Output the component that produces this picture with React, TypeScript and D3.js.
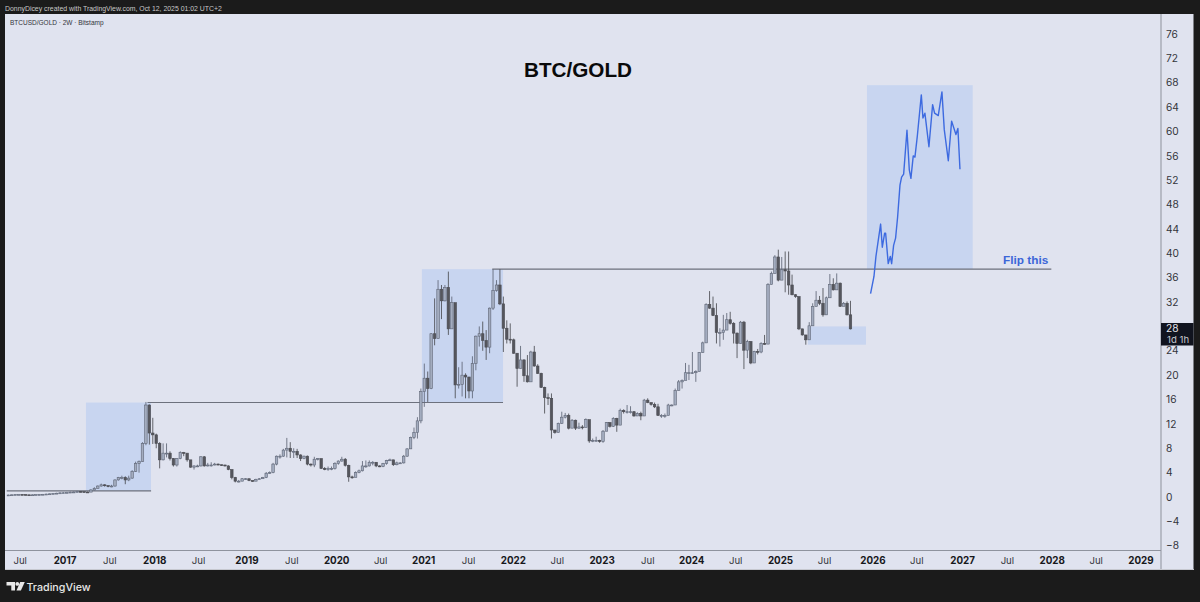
import React from "react";
import * as d3 from "d3";

const closes = [
  .33,.36,.4,.42,.4,.36,.33,.36,.38,.4,.44,.48,.52,.58,.62,.68,.7,.75,.8,.82,.9,.88,.82,.8,
  1.15,1.42,1.8,2.0,1.86,1.7,1.8,2.8,3.2,3.2,2.8,3.1,4.2,5.5,5.8,8.8,15.1,10.5,10.2,8.8,6.1,7.2,7.2,6.3,5.25,6.3,
  7.3,7.2,6.1,4.9,5.1,5.1,6.6,5.1,5.25,5.25,5.4,5.3,5.25,5.1,4.5,3.2,2.6,2.6,3,3,2.7,2.6,2.9,3,3.2,3.9,4,5.4,6.7,6.7,
  7.7,8,7.5,7.5,6.9,6.3,6.7,5.4,5.25,6.2,6.3,4.7,4.5,4.7,4.7,5.5,5.9,6.2,5.2,3.3,3.2,4,4.3,5.1,5.1,5.7,5.7,5.1,5,5.5,
  6,6.1,5.3,5.6,5.6,6.7,7.9,9.8,10.6,12.5,17.3,
  19.5,17.8,26.8,26,34.1,32.2,34.4,27.6,31.9,18.4,18.5,20,19.7,17.4,21.9,26.4,26.8,25.7,24.6,31,33.9,34.8,31.7,27.7,25.9,25.8,23.6,21.1,22.5,19.9,18.9,23.8,21.5,20.3,18,16.3,16.2,11,10.6,12.1,13.1,13.4,11.3,12.6,11.3,11.5,11.4,12.7,
  9.2,9.3,9.3,9.1,10.8,12.2,11.6,12.9,11.8,14.2,14,14,14,13.3,13.7,13.3,15.9,15.5,15.2,14.8,13.4,13.4,13.4,15.1,15.1,17.5,18.9,19.1,20.4,20.4,20.4,20.6,23.7,25.3,
  31.6,31,29.8,27,27,27.4,29.1,28.5,26.9,25.2,28.7,24.1,25.5,22,23.9,23.8,25.2,25.1,34.9,36.7,39.4,35.6,37.3,37.1,34.8,33.2,32.9,27.6,26.6,25.8,28.1,31.3,32.3,31.8,29.9,32.7,34.9,34,35.1,31.3,31.8,29.9,27.6,
];
const highs = [
  .38,.42,.46,.48,.46,.42,.38,.42,.44,.46,.5,.54,.58,.64,.7,.76,.78,.84,.88,.92,1,.96,.9,.88,
  1.3,1.6,1.9,2.2,2.1,1.9,2,2.9,3.3,3.5,3.4,3.5,4.4,5.8,6,9,15.6,15.2,13,10.4,9,8.8,8.8,7.5,6.4,6.4,
  7.5,7.4,7,6,5.2,5.3,6.7,6.7,5.6,5.7,5.6,5.5,5.3,5.3,5.2,4.5,3.3,2.8,3.1,3.1,3,2.7,3,3.1,3.3,4.1,4.2,5.6,6.8,7,
  7.9,9.7,9,8,7.9,7,6.8,6.8,5.5,6.6,6.4,6.3,4.9,5,5,5.7,6,6.6,6.4,5.3,3.5,4.2,4.5,5.9,6,6,5.9,5.7,5.2,5.6,
  6.1,6.3,6.1,5.8,5.7,6.9,8,9.9,11.4,13.1,17.8,
  21.9,20.6,26.9,32.6,35.6,34.8,34.8,37,32.9,31.8,21.3,22.2,20.3,19.7,23.1,26.5,28,28.8,27.4,31.1,37.4,35.6,37.4,32.9,29,28.5,26,23.6,24.8,22.6,23.3,24,24.8,21.8,20.4,18.1,17,17,11,12.2,14,13.8,13.7,12.8,12.7,12.2,11.8,12.9,
  12.5,9.6,9.9,9.4,11,12.3,12.3,13.1,13,14.5,14.4,15.1,14.9,14.1,13.9,14,16.1,16.2,15.5,15.5,15.3,13.6,13.7,15.3,15.2,17.8,19.2,19.3,22,21.7,23.8,20.8,23.8,25.5,
  31.8,33.8,32.9,31.8,27.7,29.9,30.2,30.4,28.7,27,28.9,28.9,25.8,25.6,24,24.3,25.4,26.6,35.1,37,39.7,40.6,39.4,40.3,40.3,36.5,33.3,32.9,27.6,26.6,28.7,31.8,33.8,33,34.3,32.9,36.6,35.9,36.7,35.2,32,32.1,32.2,
];
const lows = [
  .28,.3,.34,.36,.34,.3,.28,.3,.32,.34,.38,.42,.46,.52,.56,.6,.62,.68,.72,.74,.8,.8,.74,.72,
  .9,1.1,1.4,1.7,1.7,1.6,1.6,1.7,2.7,2.9,2.1,2.6,3,4.1,4,5.8,8.5,8.6,8.7,8,4.7,6,6.5,6,5,5,
  6.2,6.7,5.8,4.8,4.5,4.9,5,5,5,5,5.2,5.2,5.1,5,4.4,2.9,2.4,2.4,2.6,2.8,2.6,2.5,2.6,2.9,3,3.1,3.8,3.9,5.2,6.3,
  6.6,6.5,6.4,6.4,6.4,5.9,6.2,5.2,5,4.9,6,4.6,4.4,4.3,4.4,4.5,5.3,5.8,5,2.5,3,3.3,3.9,4.2,4.8,5,5.2,4.9,4.9,4.9,
  5.3,5.9,5.1,5.2,5.5,5.5,6.6,7.9,9.5,9.6,12.1,
  14.8,15.6,17.7,24.9,26,29.2,32.1,26.6,27.6,16.2,17.8,16.5,16.2,16.2,16.2,20.8,24.7,24,22.5,23.6,30.7,33.7,31.5,23.8,25.2,25.2,23.5,18.1,21.1,18.9,18.8,18.9,21.4,20.2,17.9,13.7,15.1,9.6,10.4,10.6,12,12.9,11.1,11.3,11,11.2,11.1,11.7,
  8.9,9,9.1,8.9,8.9,10.8,11.4,11.5,10.7,11.8,13.7,13.7,13.7,13.2,13.3,12.6,13.3,15.4,15,14.6,13.3,13,13,13.4,14.9,15.1,17.5,17.8,19.2,19.2,20.2,18.9,20.6,23.7,
  25.4,30.9,29.7,25.2,24.7,25.8,27.4,28.3,25.2,22.8,25.2,21,22.8,21.8,22,23.4,23.6,25,25.1,34.9,36.7,35.4,35.6,33.6,33.2,33.1,32.7,27.4,26.5,25,25.8,28.1,31.3,31.5,29.6,29.9,32.7,33.9,34,31.2,31.5,29.8,27.5,
];

const projectionYears = [2025.984,2026.022,2026.044,2026.096,2026.115,2026.141,2026.152,2026.181,2026.204,2026.219,2026.241,2026.263,2026.286,2026.312,2026.33,2026.353,2026.39,2026.416,2026.434,2026.46,2026.479,2026.505,2026.55,2026.568,2026.59,2026.635,2026.676,2026.698,2026.739,2026.78,2026.806,2026.851,2026.888,2026.936,2026.958,2026.981];
const projectionValues = [33.4,36.2,39.5,44.8,41,43.3,43.3,38.3,39.5,38.3,41.3,42.5,46,51.2,52.5,53,60.2,53.7,52.3,56,55.8,59.2,66,62.2,63,57.5,64.4,63,62.6,66.5,60.3,55.2,61.7,59.5,60.5,53.8];

const priceTicks = [76,72,68,64,60,56,52,48,44,40,36,32,24,20,16,12,8,4,0,-4,-8];
const timeLabels = ["Jul","2017","Jul","2018","Jul","2019","Jul","2020","Jul","2021","Jul","2022","Jul","2023","Jul","2024","Jul","2025","Jul","2026","Jul","2027","Jul","2028","Jul","2029"];
const timeYears = [2016.5,2017,2017.5,2018,2018.49,2019.03,2019.53,2020.03,2020.52,2021,2021.5,2022,2022.49,2022.99,2023.5,2023.99,2024.48,2024.98,2025.47,2026.01,2026.5,2027.01,2027.51,2028.01,2028.5,2029];
const zones = [
  { y0: 2017.234, y1: 2017.959, p0: 1.0, p1: 15.5 },
  { y0: 2020.98, y1: 2021.885, p0: 15.5, p1: 37.4 },
  { y0: 2025.286, y1: 2025.933, p0: 25, p1: 28 },
  { y0: 2025.944, y1: 2027.123, p0: 37.4, p1: 67.6 },
];
const levels = [
  { y0: 2016.35, y1: 2017.96, p: 1.0 },
  { y0: 2017.92, y1: 2021.885, p: 15.5 },
  { y0: 2021.765, y1: 2028.0, p: 37.4 },
];
const lastBarYear = 2025.76;
const BAR_YEARS = 14 / 365.25;

const ui = '"Inter","Liberation Sans",sans-serif';
const helv = '"Liberation Sans",Arial,sans-serif';

export default function App() {
  const x = d3.scaleLinear().domain([2017, 2029]).range([65, 1141]);
  const y = d3.scaleLinear().domain([0, 76]).range([497, 34]);
  const n = closes.length;
  const line = d3.line<number>()
    .x((_, i) => x(projectionYears[i]))
    .y((d) => y(d))
    .curve(d3.curveLinear);
  const clipId = "plot";

  return (
    <svg width={1200} height={602} style={{ position: "absolute", left: 0, top: 0, display: "block" }}>
      <rect width={1200} height={602} fill="#1b1b1b" />
      <rect x={5} y={14} width={1188.5} height={555.5} fill="#e0e3ef" />
      <defs>
        <clipPath id={clipId}><rect x={5} y={14} width={1156} height={536} /></clipPath>
      </defs>
      <text x={5} y={10.5} fontFamily={helv} fontSize={6.9} fill="#c9c9c9">DonnyDicey created with TradingView.com, Oct 12, 2025 01:02 UTC+2</text>
      <text x={10} y={25} fontFamily={helv} fontSize={6.5} fill="#33343a">BTCUSD/GOLD · 2W · Bitstamp</text>
      <g clipPath={`url(#${clipId})`}>
        {zones.map((z, i) => (
          <rect key={i} x={x(z.y0)} y={y(z.p1)} width={x(z.y1) - x(z.y0)} height={y(z.p0) - y(z.p1)} fill="#c8d5f0" />
        ))}
        {levels.map((l, i) => (
          <line key={i} x1={x(l.y0)} x2={x(l.y1)} y1={y(l.p)} y2={y(l.p)} stroke="#6d717d" strokeWidth={1.1} />
        ))}
        {closes.map((c, i) => {
          const open = i === 0 ? c : closes[i - 1];
          const cx = x(lastBarYear - (n - 1 - i) * BAR_YEARS);
          const up = c >= open;
          const top = y(Math.max(open, c));
          const h = Math.max(0.9, Math.abs(y(open) - y(c)));
          const col = up ? "#5f6676" : "#4a4b52";
          return (
            <g key={i}>
              <line x1={cx} x2={cx} y1={y(highs[i])} y2={y(lows[i])} stroke={col} strokeWidth={0.85} />
              <rect x={cx - 1.25} y={top} width={2.5} height={h}
                fill={up ? "#a3acbf" : "#55565d"} stroke={col} strokeWidth={0.6} />
            </g>
          );
        })}
        <path d={line(projectionValues) ?? ""} fill="none" stroke="#3d6ae0" strokeWidth={1.4} strokeLinejoin="round" />
      </g>
      <text x={578} y={76.5} textAnchor="middle" fontFamily={helv} fontWeight={700} fontSize={20.7} fill="#0a0a0a">BTC/GOLD</text>
      <text x={1003} y={264} fontFamily={helv} fontWeight={700} fontSize={11.8} fill="#3b66d8">Flip this</text>

      <line x1={1161} x2={1161} y1={14} y2={569} stroke="#9a9ea8" strokeWidth={1.2} />
      <line x1={5} x2={1161} y1={550.5} y2={550.5} stroke="#8f939e" strokeWidth={1.2} />
      <line x1={5} x2={1194} y1={569.5} y2={569.5} stroke="#c6c8cf" strokeWidth={1} />
      {priceTicks.map((p) => (
        <text key={p} x={1166} y={y(p) + 3.7} fontFamily={ui} fontSize={10.2} fill="#34353b">
          {p < 0 ? `\u2212${Math.abs(p)}` : p}
        </text>
      ))}
      <rect x={1161} y={323} width={32.5} height={22.5} fill="#11141f" />
      <text x={1166} y={332} fontFamily={ui} fontSize={10.2} fill="#e6e6ea">28</text>
      <text x={1167} y={343} fontFamily={ui} fontSize={9.6} fill="#c9cad0">1d 1h</text>
      {timeLabels.map((t, i) => (
        <text key={i} x={x(timeYears[i])} y={564} textAnchor="middle" fontFamily={ui}
          fontSize={t === "Jul" ? 9.6 : 9.8} fontWeight={t === "Jul" ? 400 : 700} fill={t === "Jul" ? "#33343a" : "#17181c"}>{t}</text>
      ))}
      <g fill="#e8e8e8">
        <path d="M6.5 582h8.5v8.5h-3.7v-5h-4.8z" />
        <circle cx={17.3} cy={583.9} r={1.9} />
        <path d="M20.2 582h4.6l-3.9 8.5h-4.4z" />
        <text x={26.5} y={590.5} fontFamily={ui} fontWeight={500} fontSize={10.7}>TradingView</text>
      </g>
    </svg>
  );
}
